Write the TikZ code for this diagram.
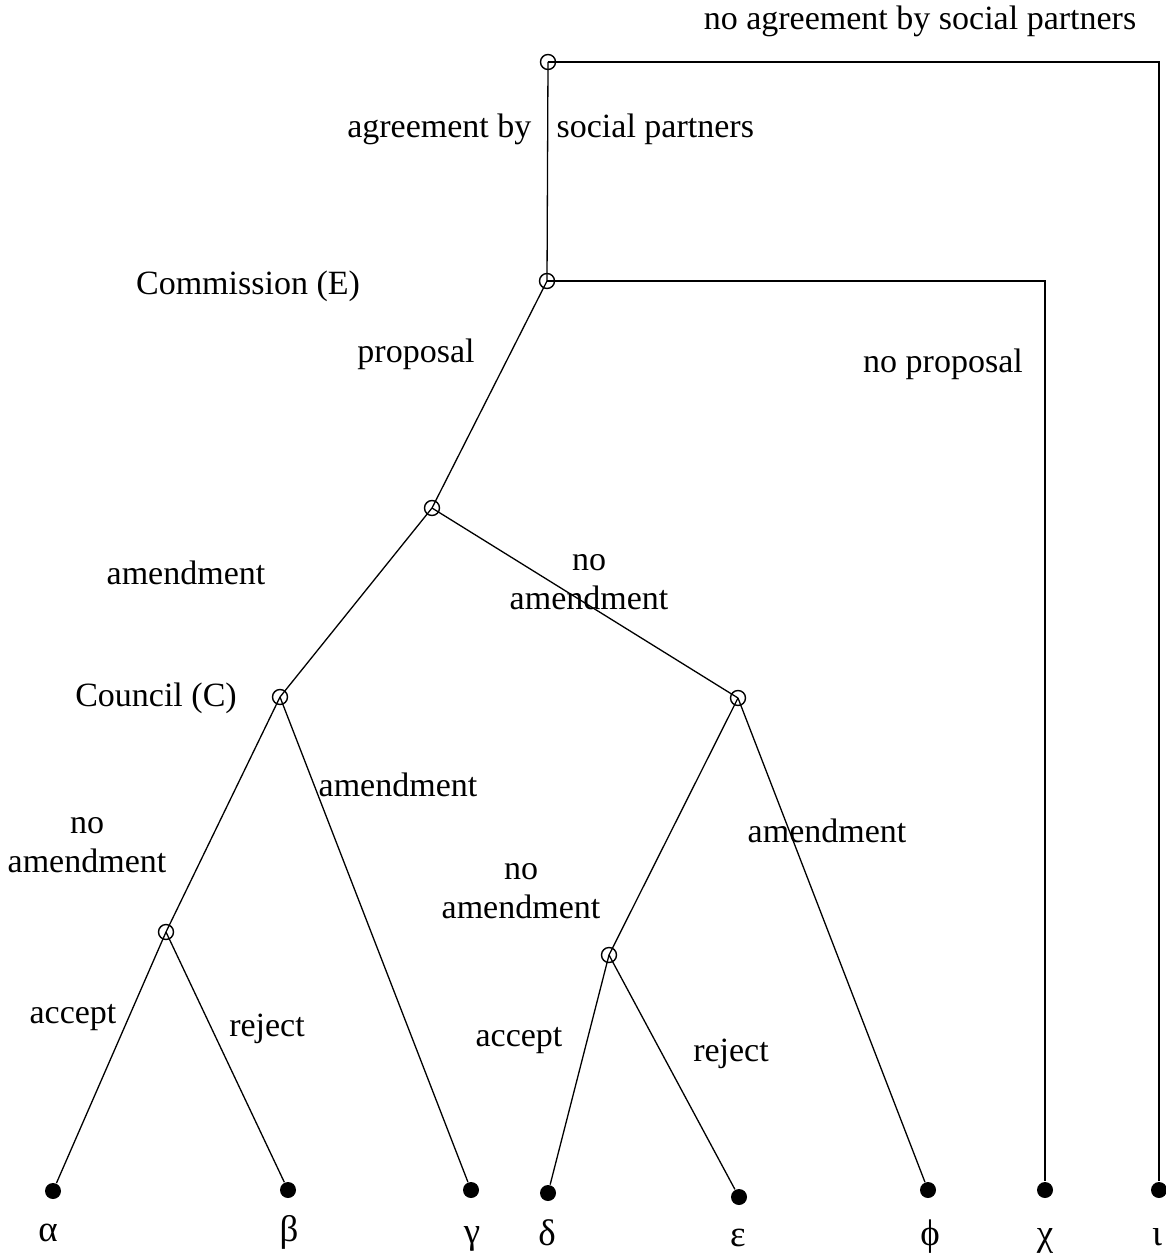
\documentclass[tikz,border=0pt]{standalone}
\usepackage{fontspec}
\setmainfont{Liberation Serif}
\usepackage{tikz}

\begin{document}
\begin{tikzpicture}[x=1pt,y=-1pt,
	line width=1.3pt,
	font=\fontsize{34}{39}\selectfont,
	decision/.style={circle,draw,fill=white,line width=1.3pt,minimum size=14pt,inner sep=0pt},
	outcome/.style={circle,fill=black,minimum size=16pt,inner sep=0pt},
	lbl/.style={anchor=base,inner sep=0pt,align=center},
	greek/.style={lbl,font=\fontsize{37}{40}\selectfont}]
	\useasboundingbox (0,0) rectangle (1165,1257);

	% corners of the two bracket paths
	\coordinate (topright) at (1159,62);
	\coordinate (commright) at (1045,281);

	% terminal outcomes
	\node[outcome] (alpha) at (53,1191) {};
	\node[outcome] (beta) at (288,1190) {};
	\node[outcome] (gamma) at (471,1190) {};
	\node[outcome] (delta) at (548,1193) {};
	\node[outcome] (eps) at (739,1197) {};
	\node[outcome] (phi) at (928,1190) {};
	\node[outcome] (chi) at (1045,1190) {};
	\node[outcome] (iota) at (1159,1190) {};

	\node[greek] at (48,1241) {α};
	\node[greek] at (289,1241) {β};
	\node[greek] at (472,1243) {γ};
	\node[greek] at (547,1245) {δ};
	\node[greek] at (738,1246) {ε};
	\node[greek] at (930,1245) {ϕ};
	\node[greek] at (1045,1245) {χ};
	\node[greek] at (1157,1245) {ι};

	% the tree
	\coordinate (root) at (548,62);
	\coordinate (comm) at (547,281);
	\coordinate (prop) at (432,508);
	\coordinate (council) at (280,697);
	\coordinate (noam) at (738,698);
	\coordinate (cleft) at (166,932);
	\coordinate (cright) at (609,955);

	\draw (root) -- (comm);
	\draw (root) -- (topright) -- (iota);
	\draw (comm) -- (commright) -- (chi);
	\draw (comm) -- (prop);
	\draw (prop) -- (council);
	\draw (prop) -- (noam);
	\draw (council) -- (cleft);
	\draw (council) -- (gamma);
	\draw (cleft) -- (alpha);
	\draw (cleft) -- (beta);
	\draw (noam) -- (cright);
	\draw (noam) -- (phi);
	\draw (cright) -- (delta);
	\draw (cright) -- (eps);

	\foreach \n in {root,comm,prop,council,noam,cleft,cright}
		\draw[line width=1.4pt] (\n) circle (7.5pt);

	% move labels
	\node[lbl] at (920,30) {no agreement by social partners};
	\node[lbl,anchor=base east] at (532,138) {agreement by};
	\node[lbl,anchor=base west] at (556,138) {social partners};
	\node[lbl] at (248,294) {Commission (E)};
	\node[lbl] at (416,362) {proposal};
	\node[lbl] at (943,372) {no proposal};
	\node[lbl] at (186,584) {amendment};
	\node[lbl] at (589,609) {no\\amendment};
	\node[lbl] at (156,706) {Council (C)};
	\node[lbl] at (398,796) {amendment};
	\node[lbl] at (827,842) {amendment};
	\node[lbl] at (87,872) {no\\amendment};
	\node[lbl] at (521,918) {no\\amendment};
	\node[lbl] at (73,1023) {accept};
	\node[lbl] at (267,1036) {reject};
	\node[lbl] at (519,1046) {accept};
	\node[lbl] at (731,1061) {reject};
\end{tikzpicture}
\end{document}
